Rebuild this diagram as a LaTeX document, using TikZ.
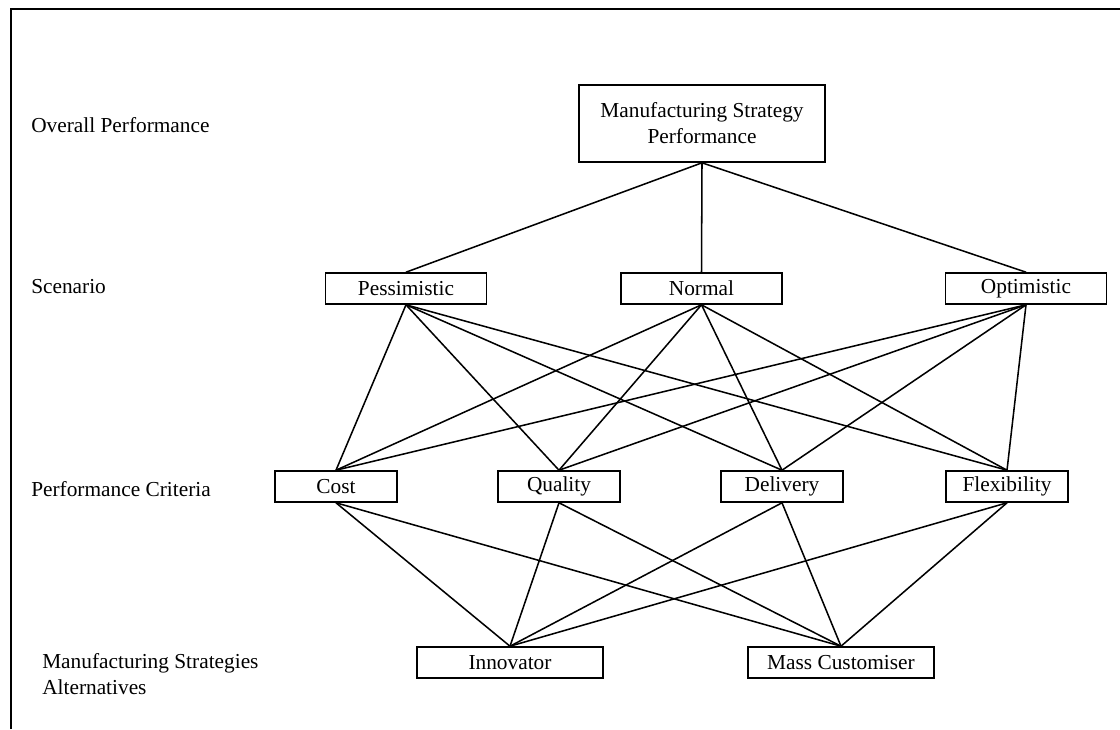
\documentclass[tikz,border=0pt]{standalone}
\usepackage{fontspec}
\setmainfont{Liberation Serif}
\begin{document}
\begin{tikzpicture}[
    x=0.75pt, y=-0.75pt,
    every node/.style={font=\fontsize{16}{19.5}\selectfont},
    box/.style={rectangle, draw, line width=1.2pt, inner sep=0pt, minimum height=23.25pt, align=center},
    scen/.style={box, minimum width=120.75pt},
    crit/.style={box, minimum width=91.5pt},
    alt/.style={box, minimum width=139.5pt},
    level/.style={anchor=west, inner sep=0pt, align=left},
    link/.style={line width=1.15pt}
]
    \useasboundingbox (0,0) rectangle (1120,729);
    \draw[line width=1.6pt] (11,729) -- (11,9) -- (1120,9);

    \node[level] (lvltop) at (31,125) {Overall Performance};
    \node[level] (lvlscen) at (31,287) {Scenario};
    \node[level] (lvlcrit) at (31,489) {Performance Criteria};
    \node[level] (lvlalt) at (42,674.5) {Manufacturing Strategies\\Alternatives};

    \node[box, minimum width=184.5pt, minimum height=57.75pt] (msp) at (702,123.5) {Manufacturing Strategy\\Performance};

    \node[scen] (pess) at (406,288.5) {Pessimistic};
    \node[scen] (norm) at (701.5,288.5) {Normal};
    \node[scen] (opt) at (1026,288.5) {Optimistic};

    \node[crit] (cost) at (336,486.5) {Cost};
    \node[crit] (qual) at (559,486.5) {Quality};
    \node[crit] (deliv) at (782,486.5) {Delivery};
    \node[crit] (flex) at (1007,486.5) {Flexibility};

    \node[alt] (innov) at (510,662.5) {Innovator};
    \node[alt] (masscust) at (841,662.5) {Mass Customiser};

    \foreach \s in {pess,norm,opt}
        \draw[link] (msp.south) -- (\s.north);
    \foreach \s in {pess,norm,opt}
        \foreach \c in {cost,qual,deliv,flex}
            \draw[link] (\s.south) -- (\c.north);
    \foreach \c in {cost,qual,deliv,flex}
        \foreach \a in {innov,masscust}
            \draw[link] (\c.south) -- (\a.north);
\end{tikzpicture}
\end{document}
